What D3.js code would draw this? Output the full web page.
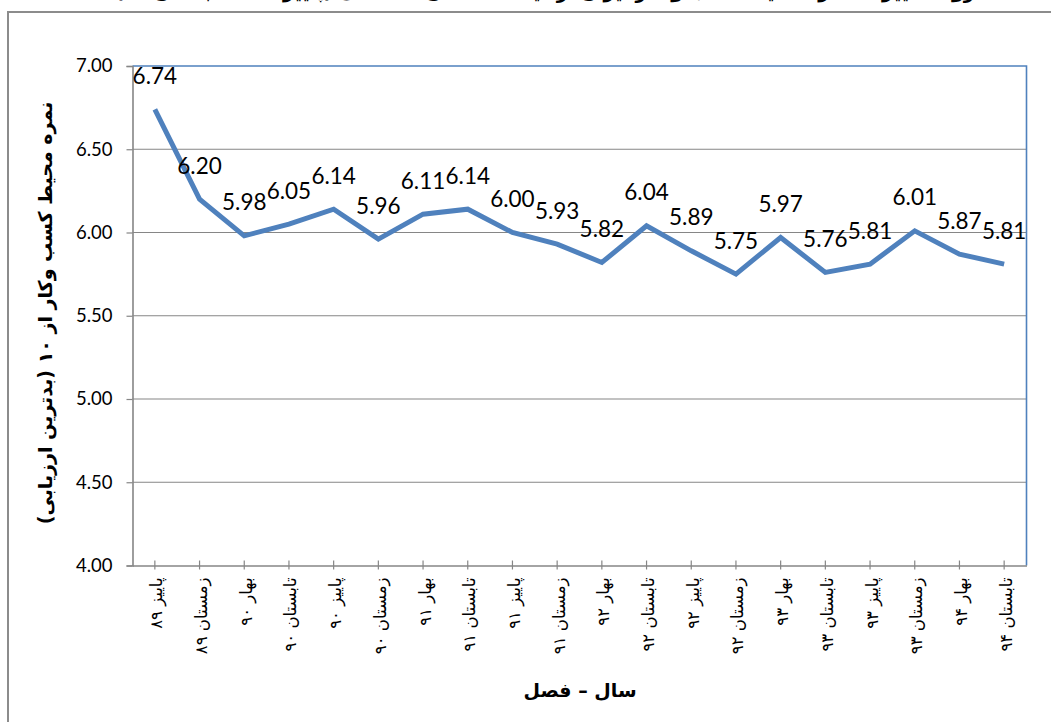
<!DOCTYPE html>
<html><head><meta charset="utf-8">
<script src="https://cdn.jsdelivr.net/npm/d3@7"></script>
<style>
html,body{margin:0;padding:0;background:#fff;overflow:hidden;}
svg{display:block;}
</style></head>
<body>
<svg id="chart" width="1051" height="722"></svg>
<script>
const categories = ["پاییز ۸۹","زمستان ۸۹","بهار ۹۰","تابستان ۹۰","پاییز ۹۰","زمستان ۹۰","بهار ۹۱","تابستان ۹۱","پاییز ۹۱","زمستان ۹۱","بهار ۹۲","تابستان ۹۲","پاییز ۹۲","زمستان ۹۲","بهار ۹۳","تابستان ۹۳","پاییز ۹۳","زمستان ۹۳","بهار ۹۴","تابستان ۹۴"];
const values = [6.74,6.20,5.98,6.05,6.14,5.96,6.11,6.14,6.00,5.93,5.82,6.04,5.89,5.75,5.97,5.76,5.81,6.01,5.87,5.81];
const yTicks = [4.0,4.5,5.0,5.5,6.0,6.5,7.0];
const titleText = "روند تغییرات نمره محیط کسب و کار ایران از دیدگاه فعالان اقتصادی (پاییز ۸۹ تا تابستان ۹۴)";
const yTitle = "نمره محیط کسب وکار از ۱۰ (بدترین ارزیابی)";
const xTitle = "سال – فصل";

const svg = d3.select("#chart");
const plot = {left:132.5, right:1026.5, top:66, bottom:565.5};
const latin = "Lato, 'Open Sans', sans-serif";
const fa = "'DejaVu Sans', 'Noto Sans', sans-serif";

// outer chart border (extends beyond view)
svg.append("rect").attr("x",8).attr("y",12).attr("width",1100).attr("height",800)
  .attr("fill","none").attr("stroke","#8c8c8c").attr("stroke-width",2);

// title (cut off at top, as in the reference)
svg.append("text").attr("x",545).attr("y",-2).attr("text-anchor","middle")
  .attr("font-family",fa).attr("font-weight","bold").attr("font-size",19)
  .attr("fill","#000").text(titleText);

const x = d3.scaleBand().domain(categories).range([plot.left, plot.right]);
const y = d3.scaleLinear().domain([4,7]).range([plot.bottom, plot.top]);
const cx = d => x(d) + x.bandwidth()/2;

// gridlines
svg.append("g").selectAll("line").data(yTicks.filter(t=>t>4 && t<7)).join("line")
  .attr("x1",plot.left).attr("x2",plot.right)
  .attr("y1",d=>y(d)).attr("y2",d=>y(d))
  .attr("stroke","#868686").attr("stroke-width",1.2);

// plot border top/right blue
svg.append("path")
  .attr("d",`M${plot.left},${plot.top}H${plot.right}V${plot.bottom}`)
  .attr("fill","none").attr("stroke","#4F81BD").attr("stroke-width",1.6);

// y axis
const yAxis = d3.axisLeft(y).tickValues(yTicks).tickFormat(d3.format(".2f")).tickSize(6).tickPadding(14);
const gy = svg.append("g").attr("transform",`translate(${plot.left},0)`).call(yAxis);
gy.select(".domain").attr("stroke","#868686").attr("stroke-width",1.6);
gy.selectAll(".tick line").attr("stroke","#868686").attr("stroke-width",1.2);
gy.selectAll(".tick text").attr("font-family",latin).attr("font-size",18.5).attr("fill","#000");

// x axis
const xAxis = d3.axisBottom(x).tickSize(0).tickFormat("");
const gx = svg.append("g").attr("transform",`translate(0,${plot.bottom})`).call(xAxis);
gx.select(".domain").attr("stroke","#868686").attr("stroke-width",1.6);
gx.selectAll(".tick").append("line").attr("y1",-5).attr("y2",4)
  .attr("stroke","#868686").attr("stroke-width",1.2);

// x labels rotated
svg.append("g").selectAll("text").data(categories).join("text")
  .attr("transform",d=>`translate(${cx(d)+2},${plot.bottom+12}) rotate(-90)`)
  .attr("text-anchor","end").attr("dominant-baseline","central")
  .attr("font-family",fa).attr("font-size",16.5).attr("fill","#000")
  .text(d=>d);

// line
const line = d3.line().x((d,i)=>cx(categories[i])).y(d=>y(d));
svg.append("path").datum(values).attr("d",line)
  .attr("fill","none").attr("stroke","#4F81BD").attr("stroke-width",5)
  .attr("stroke-linejoin","miter");

// data labels
svg.append("g").selectAll("text").data(values).join("text")
  .attr("x",(d,i)=>cx(categories[i])).attr("y",d=>y(d)-34)
  .attr("text-anchor","middle").attr("dominant-baseline","central")
  .attr("font-family",latin).attr("font-size",22.5).attr("fill","#000")
  .text(d=>d3.format(".2f")(d));

// y title
svg.append("text").attr("transform",`translate(45,313) rotate(-90)`)
  .attr("text-anchor","middle").attr("dominant-baseline","central")
  .attr("font-family",fa).attr("font-weight","bold").attr("font-size",19)
  .attr("fill","#000")
  .text(yTitle);

// x title
svg.append("text").attr("x",580).attr("y",690)
  .attr("text-anchor","middle").attr("dominant-baseline","central")
  .attr("font-family",fa).attr("font-weight","bold").attr("font-size",19).attr("fill","#000")
  .text(xTitle);
</script>
</body></html>
